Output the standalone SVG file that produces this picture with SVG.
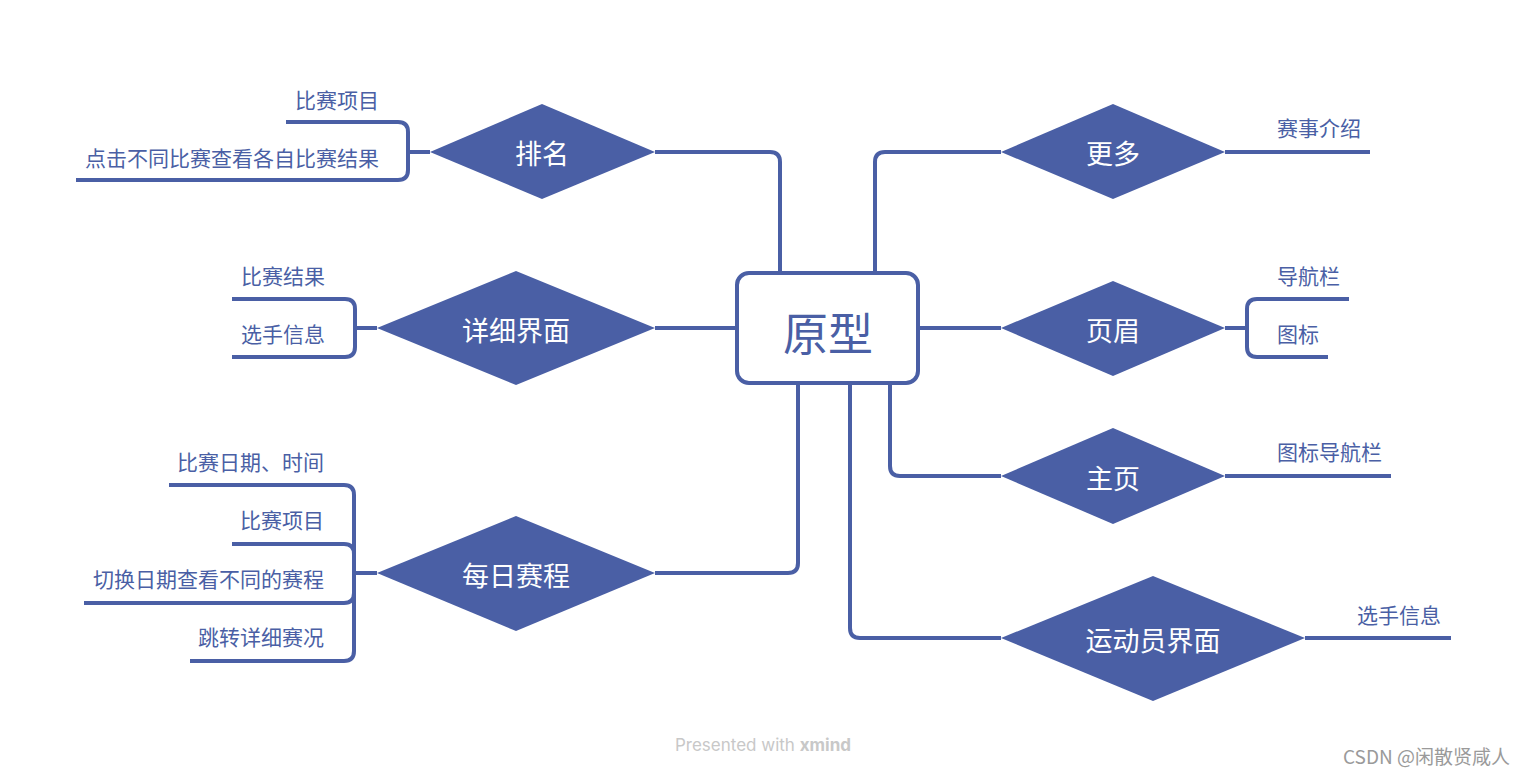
<svg xmlns="http://www.w3.org/2000/svg" width="1527" height="777" viewBox="0 0 1527 777">
<style>
.c{fill:none;stroke:#4a5fa5;stroke-width:4;stroke-linecap:butt;stroke-linejoin:round}
.d{fill:#4a5fa5}
.dt{fill:#ffffff;font-family:"Noto Sans CJK SC","Noto Sans",sans-serif;font-size:27px;text-anchor:middle;dominant-baseline:central}
.lt{fill:#4a5fa5;font-family:"Noto Sans CJK SC","Noto Sans",sans-serif;font-size:21px}
.le{text-anchor:end}
</style>
<rect width="1527" height="777" fill="#ffffff"/>
<g id="connectors">
<path class="c" d="M780,272 V162 Q780,152 770,152 H655"/>
<path class="c" d="M875,272 V162 Q875,152 885,152 H1001"/>
<path class="c" d="M737,328 H655"/>
<path class="c" d="M918,328 H1001"/>
<path class="c" d="M890,383 V466 Q890,476 900,476 H1001"/>
<path class="c" d="M850,383 V628 Q850,638 860,638 H1001"/>
<path class="c" d="M798,383 V563 Q798,573 788,573 H655"/>
<path class="c" d="M430,152 H408 V132 Q408,122 398,122 H286"/>
<path class="c" d="M408,152 V170 Q408,180 398,180 H76"/>
<path class="c" d="M377,328 H355 V309 Q355,299 345,299 H232"/>
<path class="c" d="M355,328 V347 Q355,357 345,357 H232"/>
<path class="c" d="M377,573 H354 V495 Q354,485 344,485 H169"/>
<path class="c" d="M354,573 V554 Q354,544 344,544 H232"/>
<path class="c" d="M354,573 V593 Q354,603 344,603 H84"/>
<path class="c" d="M354,573 V651 Q354,661 344,661 H190"/>
<path class="c" d="M1225,152 H1370"/>
<path class="c" d="M1225,328 H1247 V309 Q1247,299 1257,299 H1349"/>
<path class="c" d="M1247,328 V347 Q1247,357 1257,357 H1328"/>
<path class="c" d="M1225,476 H1391"/>
<path class="c" d="M1305,638 H1451"/>
</g>
<g id="root">
<rect x="737" y="273" width="181" height="110" rx="12" fill="#ffffff" stroke="#4a5fa5" stroke-width="4"/>
<text x="828" y="331" style="fill:#4a5fa5;font-family:'Noto Sans CJK SC','Noto Sans',sans-serif;font-size:45px;text-anchor:middle;dominant-baseline:central">原型</text>
</g>
<g id="n-paiming">
<polygon class="d" points="430,152 542,104 655,152 542,199"/>
<text class="dt" x="542" y="152">排名</text>
</g>
<g id="n-xiangxi">
<polygon class="d" points="377,328 516,271 655,328 516,385"/>
<text class="dt" x="516" y="329">详细界面</text>
</g>
<g id="n-meiri">
<polygon class="d" points="377,573 516,516 655,573 516,631"/>
<text class="dt" x="516" y="574">每日赛程</text>
</g>
<g id="n-gengduo">
<polygon class="d" points="1001,152 1113,104 1225,152 1113,199"/>
<text class="dt" x="1113" y="152">更多</text>
</g>
<g id="n-yemei">
<polygon class="d" points="1001,328 1113,281 1225,328 1113,376"/>
<text class="dt" x="1113" y="329">页眉</text>
</g>
<g id="n-zhuye">
<polygon class="d" points="1001,476 1113,428 1225,476 1113,524"/>
<text class="dt" x="1113" y="477">主页</text>
</g>
<g id="n-yundongyuan">
<polygon class="d" points="1001,638 1153,576 1305,638 1153,701"/>
<text class="dt" x="1153" y="639">运动员界面</text>
</g>
<g id="leaves">
<text class="lt le" x="379" y="108">比赛项目</text>
<text class="lt le" x="379" y="166">点击不同比赛查看各自比赛结果</text>
<text class="lt le" x="325" y="284">比赛结果</text>
<text class="lt le" x="325" y="342">选手信息</text>
<text class="lt le" x="324" y="470">比赛日期、时间</text>
<text class="lt le" x="324" y="528">比赛项目</text>
<text class="lt le" x="324" y="587">切换日期查看不同的赛程</text>
<text class="lt le" x="324" y="645">跳转详细赛况</text>
<text class="lt" x="1277" y="136">赛事介绍</text>
<text class="lt" x="1277" y="284">导航栏</text>
<text class="lt" x="1277" y="342">图标</text>
<text class="lt" x="1277" y="460">图标导航栏</text>
<text class="lt" x="1357" y="623">选手信息</text>
</g>
<text x="763" y="751" style="fill:#c8c8c8;font-family:Inter,'Noto Sans',sans-serif;font-size:17px;text-anchor:middle">Presented with <tspan font-weight="bold">xmind</tspan></text>
<text x="1510" y="764" style="fill:#9a9a9a;font-family:'Noto Sans CJK SC','Noto Sans',sans-serif;font-size:19px;text-anchor:end">CSDN @闲散贤咸人</text>
</svg>
